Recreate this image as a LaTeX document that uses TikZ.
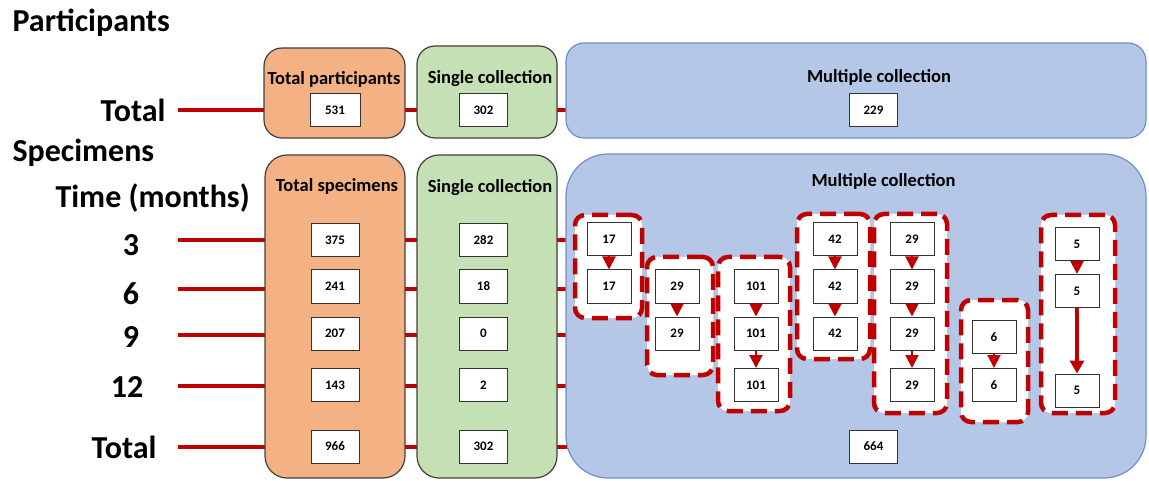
\documentclass[tikz,border=0pt]{standalone}
\usepackage{fontspec}
\setmainfont{Carlito}
\usetikzlibrary{arrows.meta,backgrounds}
\definecolor{panelorange}{HTML}{F4B183}
\definecolor{panelgreen}{HTML}{C5E0B4}
\definecolor{panelblue}{HTML}{B4C7E7}
\definecolor{edgeblue}{HTML}{6F8FCB}
\definecolor{darkred}{HTML}{C00000}
\tikzset{
	panel/.style={draw=black!75, line width=1.2pt, inner sep=0pt},
	valbox/.style={draw=black!80, fill=white, line width=1pt, inner sep=0pt, minimum width=48pt, minimum height=33pt, font=\fontsize{13}{15}\selectfont\bfseries},
	gbox/.style={valbox, minimum width=44pt},
	grpbox/.style={draw=darkred, fill=white, line width=4.5pt, dash pattern=on 16pt off 8pt, rounded corners=10pt, inner sep=0pt},
	paneltitle/.style={font=\fontsize{18.5}{22}\selectfont\bfseries, anchor=base},
	rowlabel/.style={font=\fontsize{32}{36}\selectfont\bfseries},
	rowline/.style={draw=darkred, line width=4.5pt},
	flow/.style={draw=darkred, line width=2pt, -{Triangle[width=13pt,length=13pt]}},
}
\begin{document}
\begin{tikzpicture}[x=1pt,y=-1pt]
	\useasboundingbox (0,0) rectangle (1149,481);
	\node[rowlabel, anchor=base west] (participants) at (9,32) {Participants};
	\node[rowlabel, anchor=east] (toptotal) at (169,110) {Total};
	\node[rowlabel, anchor=base west] (specimens) at (9,162) {Specimens};
	\node[rowlabel, anchor=base west] (time) at (52,208) {Time (months)};
	\node[rowlabel] (m3) at (131,245) {3};
	\node[rowlabel] (m6) at (131,294) {6};
	\node[rowlabel] (m9) at (131,337) {9};
	\node[rowlabel] (m12) at (127,387) {12};
	\node[rowlabel, anchor=east] (bottotal) at (160,447) {Total};
	\coordinate (rowP) at (178,110);
	\coordinate (row3) at (178,240);
	\coordinate (row6) at (178,289);
	\coordinate (row9) at (178,335);
	\coordinate (row12) at (178,386);
	\coordinate (rowT) at (178,447);

	\node[panel, fill=panelorange, rounded corners=18pt, minimum width=141pt, minimum height=90pt] (totpart) at (334.5,93) {};
	\node[paneltitle] (totpart-t) at (334,85) {Total participants};
	\node[valbox, minimum width=50pt] (v531) at (335,110.5) {531};
	\node[panel, fill=panelgreen, rounded corners=18pt, minimum width=140pt, minimum height=92pt] (singpart) at (487,92) {};
	\node[paneltitle] (singpart-t) at (490,84) {Single collection};
	\node[valbox] (v302a) at (483.5,110.5) {302};
	\node[panel, draw=edgeblue, fill=panelblue, rounded corners=18pt, minimum width=580pt, minimum height=95pt] (multpart) at (856,90.5) {};
	\node[paneltitle] (multpart-t) at (879,83) {Multiple collection};
	\node[valbox] (v229) at (873.5,110) {229};

	\node[panel, fill=panelorange, rounded corners=22pt, minimum width=140pt, minimum height=323pt] (totspec) at (335,316.5) {};
	\node[paneltitle] (totspec-t) at (337,192) {Total specimens};
	\node[valbox] (v375) at (335,240) {375};
	\node[valbox] (v241) at (335,286.5) {241};
	\node[valbox] (v207) at (335,333.5) {207};
	\node[valbox] (v143) at (335,385) {143};
	\node[valbox] (v966) at (335,446.5) {966};
	\node[panel, fill=panelgreen, rounded corners=22pt, minimum width=140pt, minimum height=323pt] (singspec) at (487,316.5) {};
	\node[paneltitle] (singspec-t) at (490,193) {Single collection};
	\node[valbox] (v282) at (483.5,240) {282};
	\node[valbox] (v18) at (483.5,286.5) {18};
	\node[valbox] (v0) at (483.5,333.5) {0};
	\node[valbox] (v2) at (483.5,385) {2};
	\node[valbox] (v302b) at (483.5,446.5) {302};
	\node[panel, draw=edgeblue, fill=panelblue, rounded corners=42pt, minimum width=580pt, minimum height=324pt] (multspec) at (856,316) {};
	\node[paneltitle] (multspec-t) at (883.5,187) {Multiple collection};
	\node[valbox] (v664) at (873.5,446.5) {664};

	\node[grpbox, minimum width=67pt, minimum height=103pt] (g1) at (608.5,266.5) {};
	\node[gbox] (g1a) at (609,239.5) {17};
	\node[gbox] (g1b) at (609,286.5) {17};
	\draw[flow] (g1a) -- (g1b);
	\node[grpbox, minimum width=66pt, minimum height=118pt] (g2) at (680,316) {};
	\node[gbox] (g2a) at (677,286.5) {29};
	\node[gbox] (g2b) at (677,333.5) {29};
	\draw[flow] (g2a) -- (g2b);
	\node[grpbox, minimum width=72pt, minimum height=154pt] (g3) at (754,334) {};
	\node[gbox] (g3a) at (756,286.5) {101};
	\node[gbox] (g3b) at (756,333.5) {101};
	\node[gbox] (g3c) at (756,385) {101};
	\draw[flow] (g3a) -- (g3b);
	\draw[flow] (g3b) -- (g3c);
	\node[grpbox, minimum width=73pt, minimum height=145pt] (g4) at (833.5,286.5) {};
	\node[gbox] (g4a) at (835,239.5) {42};
	\node[gbox] (g4b) at (835,286.5) {42};
	\node[gbox] (g4c) at (835,333.5) {42};
	\draw[flow] (g4a) -- (g4b);
	\draw[flow] (g4b) -- (g4c);
	\node[grpbox, minimum width=73pt, minimum height=199pt] (g5) at (910.5,313.5) {};
	\node[gbox] (g5a) at (912,239.5) {29};
	\node[gbox] (g5b) at (912,286.5) {29};
	\node[gbox] (g5c) at (912,333.5) {29};
	\node[gbox] (g5d) at (912,385) {29};
	\draw[flow] (g5a) -- (g5b);
	\draw[flow] (g5b) -- (g5c);
	\draw[flow] (g5c) -- (g5d);
	\node[grpbox, minimum width=67pt, minimum height=122pt] (g6) at (994.5,361) {};
	\node[gbox] (g6a) at (994,337) {6};
	\node[gbox] (g6b) at (994,385) {6};
	\draw[flow] (g6a) -- (g6b);
	\node[grpbox, minimum width=74pt, minimum height=198pt] (g7) at (1078,314) {};
	\node[gbox] (g7a) at (1077,244.5) {5};
	\node[gbox] (g7b) at (1077,291) {5};
	\node[gbox] (g7c) at (1077,390.5) {5};
	\draw[flow] (g7a) -- (g7b);
	\draw[flow, line width=4.5pt, -{Triangle[width=14pt,length=13pt]}] (g7b) -- (g7c);

	\begin{scope}[on background layer]
		\draw[rowline] (rowP) -- (rowP -| multpart.center);
		\draw[rowline] (row3) -- (row3 -| multspec.center);
		\draw[rowline] (row6) -- (row6 -| multspec.center);
		\draw[rowline] (row9) -- (row9 -| multspec.center);
		\draw[rowline] (row12) -- (row12 -| multspec.center);
		\draw[rowline] (rowT) -- (rowT -| multspec.center);
	\end{scope}
\end{tikzpicture}
\end{document}
